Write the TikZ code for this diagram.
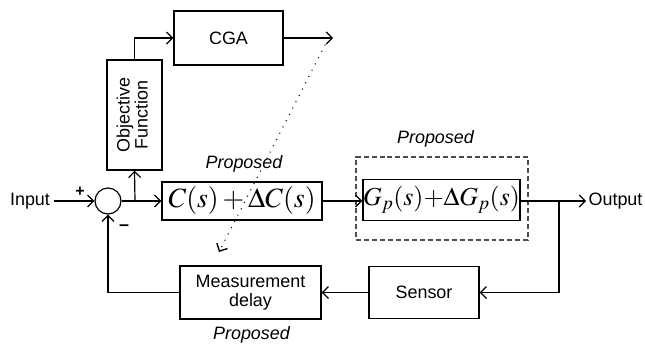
\documentclass[tikz,border=0pt]{standalone}
\usepackage{mathptmx}
\usepackage[no-math]{fontspec}
\setmainfont{Liberation Sans}
\usetikzlibrary{arrows.meta}

\begin{document}
\begin{tikzpicture}[x=1bp,y=-1bp,line width=1.2pt,
		>={Straight Barb[length=6pt,width=12pt]},
		every node/.style={font=\fontsize{18}{21}\selectfont},
		block/.style={draw,rectangle,inner sep=0pt,line width=1.4pt},
		sumnode/.style={draw,circle,minimum size=26bp,inner sep=0pt},
		propnote/.style={font=\fontsize{18}{21}\selectfont\itshape},
		guess/.style={line width=1.4pt,dash pattern=on 0.1pt off 7pt,line cap=round}]
		\useasboundingbox (0,0) rectangle (645,345);
		
		\node (in) at (30,201) {Input};
		\node[sumnode] (sum) at (108,201) {};
		\node (plus) at (80,192) {\fontsize{16}{16}\selectfont\textbf{+}};
		\node (minus) at (124,228) {\textbf{\fontsize{18}{18}\selectfont --}};
		
		\node[block,minimum width=55bp,minimum height=110bp] (obj) at (134.5,115)
			{\rotatebox{90}{\begin{tabular}{@{}c@{}}Objective\\[-3pt]Function\end{tabular}}};
		\node[block,minimum width=109bp,minimum height=54bp] (cga) at (228.5,38) {CGA};
		
		\node[block,minimum width=160bp,minimum height=38bp] (ctrl) at (242,201)
			{\fontsize{28}{30}\selectfont $C(s)+\Delta C(s)$};
		\node[propnote] (pc) at (244,164) {Proposed};
		
		\node[draw,black!70,dash pattern=on 5pt off 3pt,line width=1.2pt,minimum width=172bp,minimum height=83bp] (frame) at (442,198.5) {};
		\node[block,minimum width=145bp,minimum height=41bp] (plant) at (441.5,200)
			{\fontsize{26}{28}\selectfont $G_p(s){+}\Delta G_p(s)$};
		\node[propnote] (pg) at (435.5,139) {Proposed};
		
		\node[anchor=west,inner sep=2pt] (out) at (586,201) {Output};
		
		\node[block,minimum width=110bp,minimum height=52bp] (sens) at (424,292.5) {Sensor};
		\node[block,minimum width=141bp,minimum height=53bp,align=center] (meas) at (250.5,292.5)
			{Measurement\\[-2pt]delay};
		\node[propnote] (pm) at (251.5,335) {Proposed};
		
		\coordinate (br1) at (135,201);
		\coordinate (br2) at (559,201);
		\coordinate (cgaout) at (333,38);
		\coordinate (g1) at (325,45);
		\coordinate (g2) at (219,252);
		
		% forward path
		\draw[->] (in.east) -- (sum.west);
		\draw[->] (sum.east) -- (ctrl.west);
		\draw[->] (br1) -- (obj.south);
		\draw[->] (obj.north) |- (cga.west);
		\draw[->] (cga.east) -- (cgaout);
		\draw[->] (ctrl.east) -- (plant.west |- br2);
		\draw[->] (plant.east |- br2) -- (out.west);
		
		% feedback path
		\draw[->] (br2) |- (sens.east);
		\draw[->] (sens.west) -- (meas.east);
		\draw[->] (meas.west) -| (sum.south);
		
		% tuning hint
		\draw[guess,->] (g1) -- (g2);
\end{tikzpicture}
\end{document}
